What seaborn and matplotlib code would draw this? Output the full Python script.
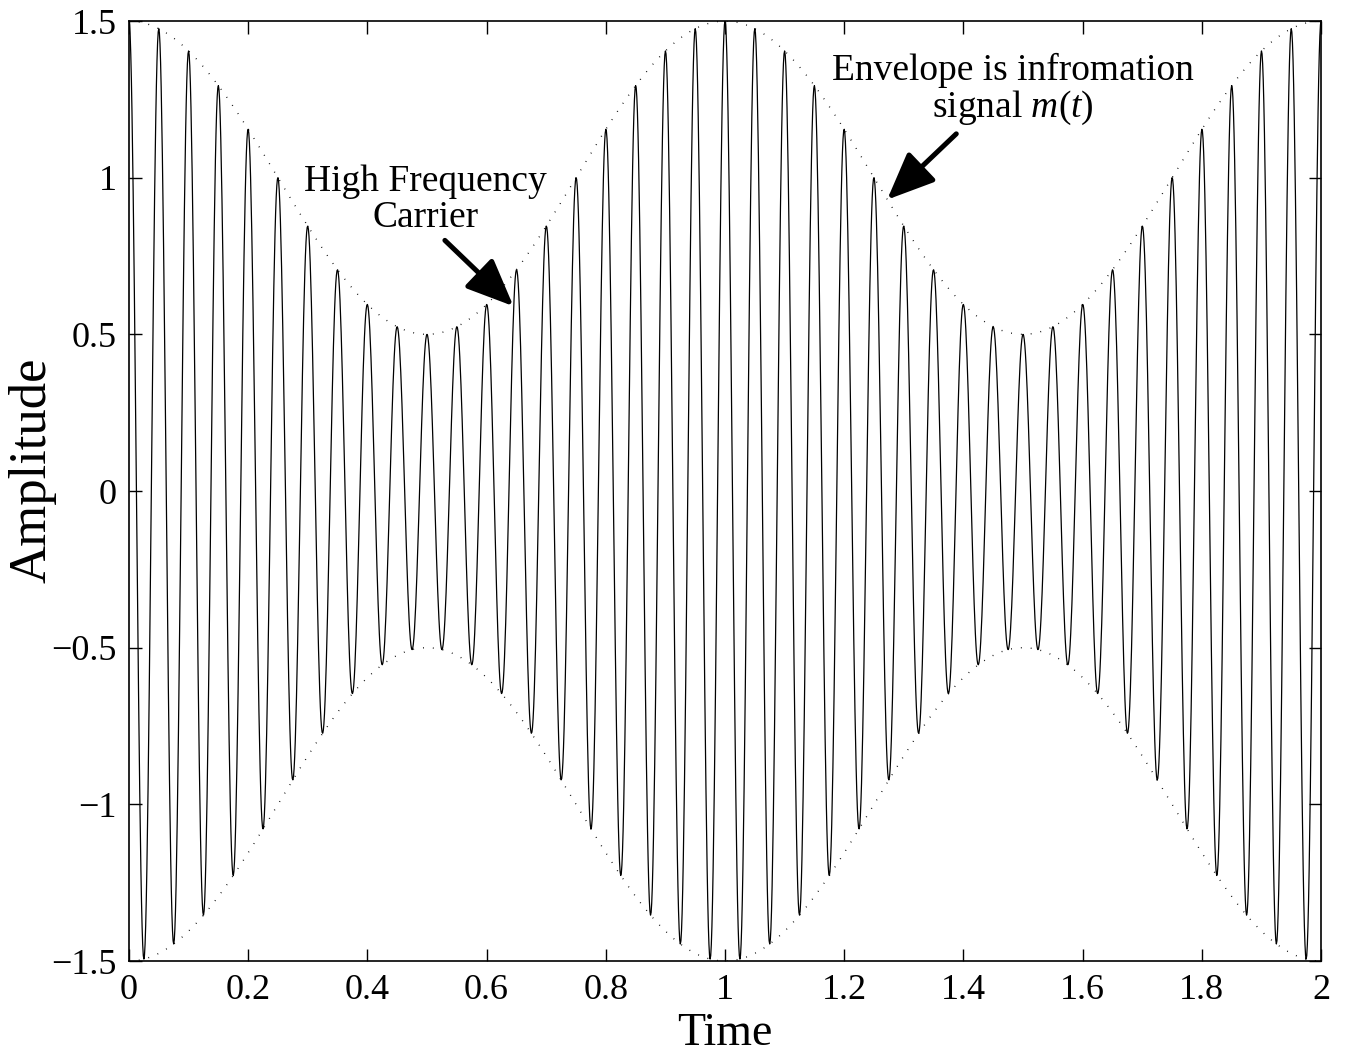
import numpy as np
import pandas as pd
import matplotlib
matplotlib.use("Agg")
import matplotlib.pyplot as plt
from matplotlib.ticker import FuncFormatter
import seaborn as sns

# Signal parameters
time_start, time_end = 0.0, 2.0
carrier_hz = 20          # 40 carrier cycles over 2 s
message_hz = 1           # envelope peaks at 0, 1, 2 and dips at 0.5, 1.5
envelope_offset = 1.0    # envelope swings 0.5 .. 1.5
envelope_depth = 0.5

x_ticks = [0, 0.2, 0.4, 0.6, 0.8, 1.0, 1.2, 1.4, 1.6, 1.8, 2.0]
y_ticks = [-1.5, -1, -0.5, 0, 0.5, 1, 1.5]

# Build the waveform
t = np.linspace(time_start, time_end, 2001)
envelope = envelope_offset + envelope_depth * np.cos(2 * np.pi * message_hz * t)
signal = envelope * np.cos(2 * np.pi * carrier_hz * t)
data = pd.DataFrame({"t": t, "signal": signal, "upper": envelope, "lower": -envelope})

sns.set_style("ticks")
plt.rcParams["font.family"] = ["Liberation Serif", "DejaVu Serif"]
plt.rcParams["mathtext.fontset"] = "custom"
plt.rcParams["mathtext.rm"] = "Liberation Serif"
plt.rcParams["mathtext.it"] = "Liberation Serif:italic"
plt.rcParams["text.color"] = "black"
plt.rcParams["axes.labelcolor"] = "black"

fig = plt.figure(figsize=(13.45, 10.57), dpi=100)
ax = fig.add_axes([0.0959, 0.0908, 0.9822 - 0.0959, 0.9801 - 0.0908])

sns.lineplot(data=data, x="t", y="signal", ax=ax, color="black", lw=0.9,
             estimator=None, sort=False)
for col in ["upper", "lower"]:
    sns.lineplot(data=data, x="t", y=col, ax=ax, color="black", lw=1.0,
                 linestyle=(0, (0.6, 6.5)), estimator=None, sort=False)

ax.set_xlim(time_start, time_end)
ax.set_ylim(-1.5, 1.5)
ax.set_xticks(x_ticks)
ax.set_yticks(y_ticks)
fmt = FuncFormatter(lambda v, p: ("%g" % v).replace("-", "\u2212"))
ax.xaxis.set_major_formatter(fmt)
ax.yaxis.set_major_formatter(fmt)
ax.tick_params(direction="in", length=9, width=1, labelsize=26, pad=9,
               top=True, right=True, colors="black")
for s in ax.spines.values():
    s.set_visible(True)
    s.set_linewidth(1.2)
    s.set_color("black")

ax.set_xlabel("Time", fontsize=33)
ax.xaxis.set_label_coords(0.5, -0.0895)
ax.xaxis.label.set_va("baseline")
ax.set_ylabel("Amplitude", fontsize=38)
ax.yaxis.set_label_coords(-0.0605, 0.522)

# Annotations
arrow = dict(arrowstyle="-|>,head_length=1.45,head_width=0.62",
             mutation_scale=20, lw=3.6, color="black", shrinkA=0, shrinkB=0)
ax.text(0.497, 0.93, "High Frequency\nCarrier", ha="center", va="center",
        fontsize=27, linespacing=1.05)
ax.annotate("", xy=(0.645, 0.59), xytext=(0.53, 0.80), arrowprops=arrow)
ax.text(1.483, 1.28, "Envelope is infromation\nsignal $m(t)$", ha="center",
        va="center", fontsize=27, linespacing=1.05)
ax.annotate("", xy=(1.272, 0.93), xytext=(1.388, 1.14), arrowprops=arrow)

fig.savefig("out.png", dpi=100, facecolor="white")
